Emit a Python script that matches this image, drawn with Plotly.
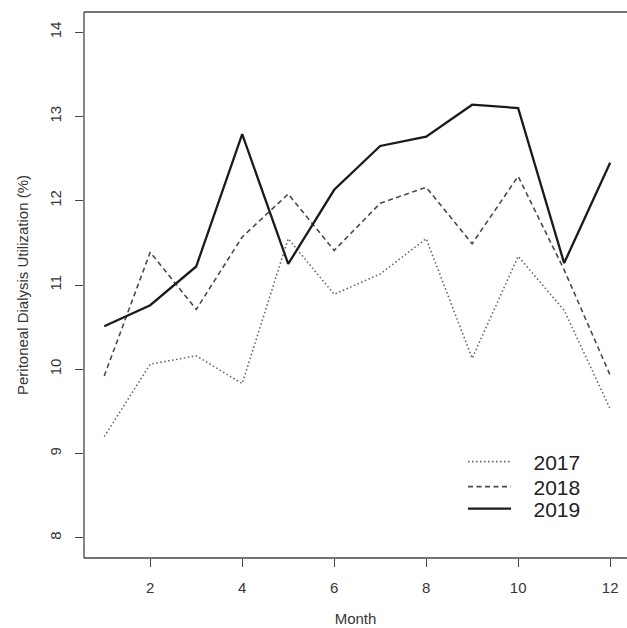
import plotly.graph_objects as go

months = list(range(1, 13))
util_2017 = [9.20, 10.06, 10.16, 9.83, 11.55, 10.89, 11.13, 11.55, 10.13, 11.34, 10.70, 9.53]
util_2018 = [9.92, 11.39, 10.71, 11.57, 12.08, 11.41, 11.97, 12.16, 11.49, 12.29, 11.18, 9.93]
util_2019 = [10.51, 10.76, 11.22, 12.79, 11.25, 12.13, 12.65, 12.76, 13.14, 13.10, 11.26, 12.45]

x_ticks = [2, 4, 6, 8, 10, 12]
y_ticks = [8, 9, 10, 11, 12, 13, 14]

NB = "\u00a0\u00a0\u00a0"
fig = go.Figure()
fig.add_trace(go.Scatter(x=months, y=util_2017, mode="lines", name=NB + "2017",
                         legend="legend",
                         line=dict(color="#6a6464", width=1.6, dash="1.5px,2.5px")))
fig.add_trace(go.Scatter(x=months, y=util_2018, mode="lines", name=NB + "2018",
                         legend="legend2",
                         line=dict(color="#4e4848", width=1.6, dash="5px,3.5px")))
fig.add_trace(go.Scatter(x=months, y=util_2019, mode="lines", name=NB + "2019",
                         legend="legend3",
                         line=dict(color="#1e1a1a", width=2.3)))

FONT = "Liberation Sans, Arial, sans-serif"
tick_font = dict(family=FONT, size=15, color="#3a3535")
title_font = dict(family=FONT, size=15, color="#3a3535")

plot_bottom = 628 - 70
plot_h = plot_bottom - 12
plot_w = 627 - 84
px_per_month = 45.99
x_lo = 0.56
x_hi = x_lo + plot_w / px_per_month


def leg(py):
    return dict(x=(463 - 84) / plot_w, y=(plot_bottom - py) / plot_h,
                xanchor="left", yanchor="middle",
                bgcolor="rgba(0,0,0,0)", font=dict(family=FONT, size=21, color="#222"),
                itemwidth=43)


frame = dict(color="#4a4242", width=1.3)
fig.update_layout(
    width=627, height=628,
    margin=dict(l=84, r=0, t=12, b=70),
    paper_bgcolor="white", plot_bgcolor="white",
    font=dict(family=FONT, color="#333"),
    showlegend=True,
    legend=leg(462), legend2=leg(487), legend3=leg(509),
    xaxis=dict(range=[x_lo, x_hi], tickvals=x_ticks, ticks="outside", ticklen=8,
               tickcolor="#4a4242", tickwidth=1.2, showline=False,
               showgrid=False, zeroline=False,
               tickfont=tick_font, automargin=False, ticklabelstandoff=8,
               title=dict(text="Month", font=title_font, standoff=18)),
    yaxis=dict(range=[7.76, 14.24], tickvals=y_ticks, ticks="outside", ticklen=8,
               tickcolor="#4a4242", tickwidth=1.2, showline=False,
               showgrid=False, zeroline=False,
               tickfont=tick_font, tickangle=-90, automargin=False, ticklabelstandoff=8,
               title=dict(text="Peritoneal Dialysis Utilization (%)", font=title_font,
                          standoff=14)),
    shapes=[dict(type="line", xref="paper", yref="paper", x0=0, x1=1, y0=1, y1=1, line=frame),
            dict(type="line", xref="paper", yref="paper", x0=0, x1=1, y0=0, y1=0, line=frame),
            dict(type="line", xref="paper", yref="paper", x0=0, x1=0, y0=0, y1=1, line=frame)],
)

fig.write_html("out.html", config={"displayModeBar": False},
               post_script="document.body.style.margin='0';document.body.style.overflow='hidden';")
